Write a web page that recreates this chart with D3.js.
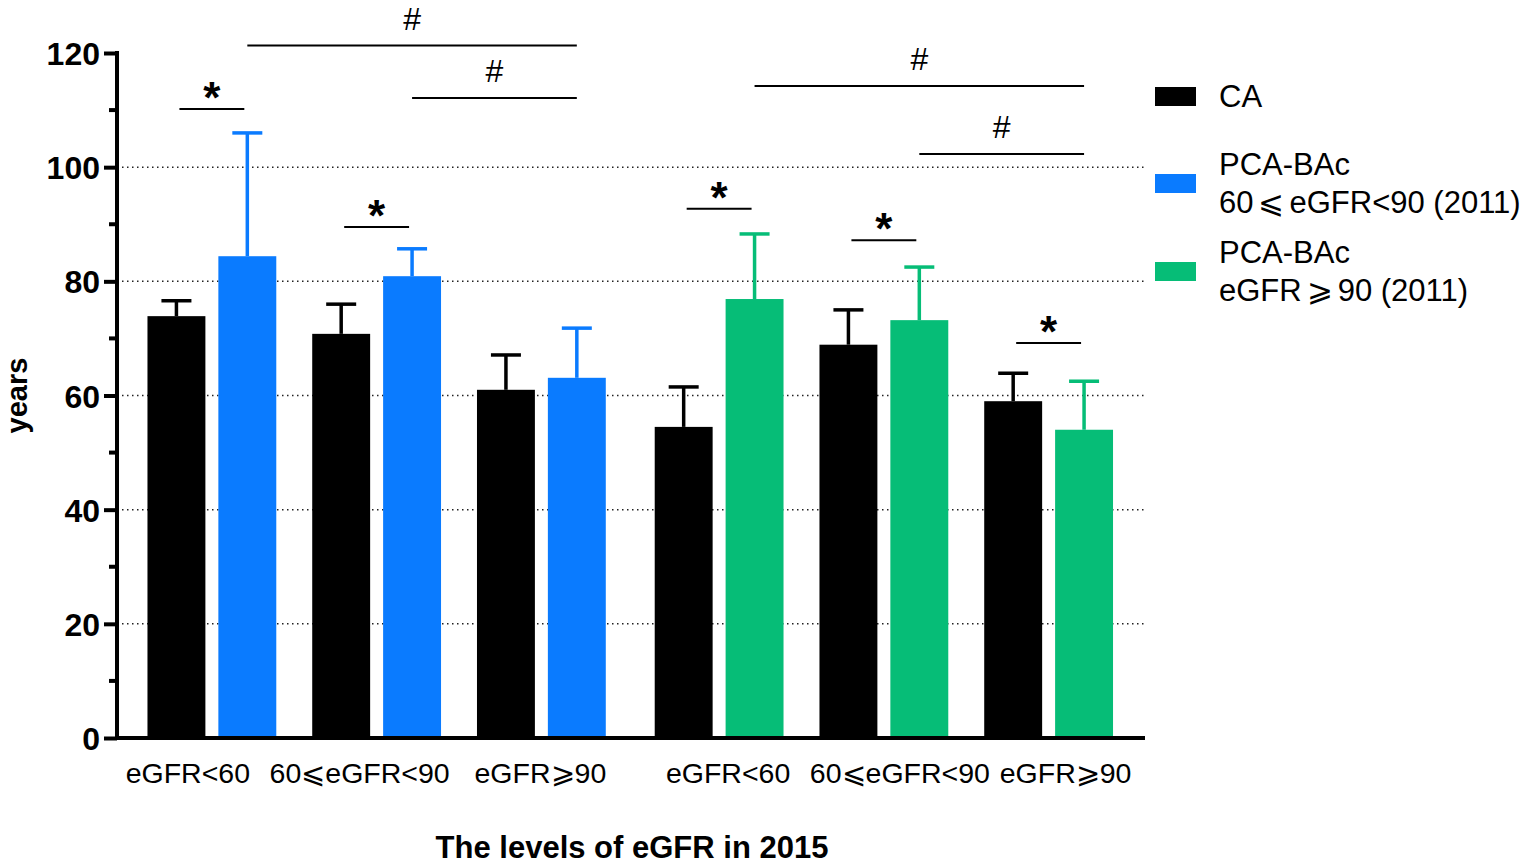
<!DOCTYPE html>
<html>
<head>
<meta charset="utf-8">
<script src="https://cdn.jsdelivr.net/npm/d3@7"></script>
<style>
    body { margin: 0; background: #fff; }
    svg { display: block; font-family: "Liberation Sans", Arial, sans-serif; }
</style>
</head>
<body>
<script>
// eGFR level in 2015, split by baseline group (2011)
const halves = ['h60', 'h90'];
const groups = ['g1', 'g2', 'g3', 'g4', 'g5', 'g6'];
const groupHalf = ['h60', 'h60', 'h60', 'h90', 'h90', 'h90'];
const groupLabels = ['eGFR<60', '60⩽eGFR<90', 'eGFR⩾90', 'eGFR<60', '60⩽eGFR<90', 'eGFR⩾90'];

// mean and SD (years)
const caMean = [73.9, 70.8, 61.0, 54.5, 68.9, 59.0];
const caSD = [2.7, 5.2, 6.1, 7.0, 6.1, 4.9];
const pcaMean = [84.4, 80.9, 63.1, 76.9, 73.2, 54.0];
const pcaSD = [21.6, 4.8, 8.7, 11.4, 9.3, 8.5];

const yTicks = [0, 20, 40, 60, 80, 100, 120];
const yMinorTicks = [10, 30, 50, 70, 90, 110];
const yGrid = [20, 40, 60, 80, 100];

// significance: * between CA and PCA-BAc within a group, # between PCA-BAc bars
const starMarks = [
    {group: 0, y: 110.2},
    {group: 1, y: 89.5},
    {group: 3, y: 92.7},
    {group: 4, y: 87.2},
    {group: 5, y: 69.2}
];
const hashMarks = [
    {from: 0, to: 2, y: 121.3},
    {from: 1, to: 2, y: 112.1},
    {from: 3, to: 5, y: 114.2},
    {from: 4, to: 5, y: 102.3}
];

const legendItems = [
    {label: ['CA'], color: '#000000'},
    {label: ['PCA-BAc', '60⩽eGFR<90 (2011)'], color: '#0a7bff'},
    {label: ['PCA-BAc', 'eGFR⩾90 (2011)'], color: '#06bd77'}
];

const width = 1536;
const height = 866;
const plotLeft = 117, plotRight = 1145, plotTop = 53, plotBottom = 738;
// the category labels in the original sit a little off the group centres
const xLabelNudge = [-24, -17, -1, 9, 16, 17];

const svg = d3.select('body').append('svg')
    .attr('width', width)
    .attr('height', height);

const y = d3.scaleLinear().domain([0, 120]).range([plotBottom, plotTop]);

const xHalf = d3.scaleBand().domain(halves).range([129.5, 1131]).paddingInner(0.0256);
const xGroup = d3.scaleBand().domain([0, 1, 2]).range([0, xHalf.bandwidth()]);
const xBar = d3.scaleBand().domain(['ca', 'pca']).range([0, xGroup.bandwidth()])
    .paddingInner(0.183).paddingOuter(0.2535);

function groupX(i) {
    return xHalf(groupHalf[i]) + xGroup(i % 3);
}
function barCenter(i, key) {
    return groupX(i) + xBar(key) + xBar.bandwidth() / 2;
}

// dotted grid
svg.append('g')
    .selectAll('line')
    .data(yGrid)
    .join('line')
    .attr('x1', plotLeft)
    .attr('x2', plotRight)
    .attr('y1', d => y(d))
    .attr('y2', d => y(d))
    .attr('stroke', '#222')
    .attr('stroke-width', 1.5)
    .attr('stroke-dasharray', '1.5 3.5');

// bars
const bars = [];
groups.forEach((g, i) => {
    const pcaColor = groupHalf[i] === 'h60' ? legendItems[1].color : legendItems[2].color;
    bars.push({i, key: 'ca', mean: caMean[i], sd: caSD[i], color: '#000000'});
    bars.push({i, key: 'pca', mean: pcaMean[i], sd: pcaSD[i], color: pcaColor});
});

svg.append('g')
    .selectAll('rect')
    .data(bars)
    .join('rect')
    .attr('x', d => groupX(d.i) + xBar(d.key))
    .attr('width', xBar.bandwidth())
    .attr('y', d => y(d.mean))
    .attr('height', d => y(0) - y(d.mean))
    .attr('fill', d => d.color);

// error bars (upper only)
const err = svg.append('g')
    .selectAll('g')
    .data(bars)
    .join('g')
    .attr('stroke', d => d.color)
    .attr('stroke-width', 3.5);

err.append('line')
    .attr('x1', d => barCenter(d.i, d.key))
    .attr('x2', d => barCenter(d.i, d.key))
    .attr('y1', d => y(d.mean))
    .attr('y2', d => y(d.mean + d.sd));

err.append('line')
    .attr('x1', d => barCenter(d.i, d.key) - 15)
    .attr('x2', d => barCenter(d.i, d.key) + 15)
    .attr('y1', d => y(d.mean + d.sd))
    .attr('y2', d => y(d.mean + d.sd));

// y axis
const yAxis = svg.append('g')
    .attr('transform', `translate(${plotLeft},0)`)
    .call(d3.axisLeft(y).tickValues(yTicks).tickSize(13).tickSizeOuter(0).tickPadding(4));
yAxis.select('.domain').attr('stroke-width', 4).attr('d', `M0,${y(120) - 2}V${plotBottom}`);
yAxis.selectAll('.tick line').attr('stroke-width', 4);
yAxis.selectAll('.tick text')
    .attr('font-size', 32)
    .attr('font-weight', 'bold')
    .attr('font-family', '"Liberation Sans", Arial, sans-serif')
    .attr('dy', '0.36em');

svg.append('g')
    .selectAll('line')
    .data(yMinorTicks)
    .join('line')
    .attr('x1', plotLeft - 8)
    .attr('x2', plotLeft)
    .attr('y1', d => y(d))
    .attr('y2', d => y(d))
    .attr('stroke', '#000')
    .attr('stroke-width', 4);

// x axis line
svg.append('line')
    .attr('x1', plotLeft - 2)
    .attr('x2', plotRight)
    .attr('y1', plotBottom)
    .attr('y2', plotBottom)
    .attr('stroke', '#000')
    .attr('stroke-width', 4);

// x tick labels
svg.append('g')
    .selectAll('text')
    .data(groups)
    .join('text')
    .attr('x', (d, i) => groupX(i) + xGroup.bandwidth() / 2 + xLabelNudge[i])
    .attr('y', 783)
    .attr('text-anchor', 'middle')
    .attr('font-size', 28.5)
    .text((d, i) => groupLabels[i]);

// axis titles
svg.append('text')
    .attr('x', 632)
    .attr('y', 858)
    .attr('text-anchor', 'middle')
    .attr('font-size', 31)
    .attr('font-weight', 'bold')
    .text('The levels of eGFR in 2015');

svg.append('text')
    .attr('transform', `translate(27,${y(60)}) rotate(-90)`)
    .attr('text-anchor', 'middle')
    .attr('font-size', 29)
    .attr('font-weight', 'bold')
    .text('years');

// * annotations
const stars = svg.append('g')
    .selectAll('g')
    .data(starMarks)
    .join('g');

stars.append('line')
    .attr('x1', d => barCenter(d.group, 'ca') + 3)
    .attr('x2', d => barCenter(d.group, 'pca') - 3)
    .attr('y1', d => y(d.y))
    .attr('y2', d => y(d.y))
    .attr('stroke', '#000')
    .attr('stroke-width', 2);

stars.append('text')
    .attr('x', d => (barCenter(d.group, 'ca') + barCenter(d.group, 'pca')) / 2)
    .attr('y', d => y(d.y) + 4)
    .attr('text-anchor', 'middle')
    .attr('font-size', 44)
    .attr('font-weight', 'bold')
    .text('*');

// # annotations
const hashes = svg.append('g')
    .selectAll('g')
    .data(hashMarks)
    .join('g');

hashes.append('line')
    .attr('x1', d => barCenter(d.from, 'pca'))
    .attr('x2', d => barCenter(d.to, 'pca'))
    .attr('y1', d => y(d.y))
    .attr('y2', d => y(d.y))
    .attr('stroke', '#000')
    .attr('stroke-width', 2);

hashes.append('text')
    .attr('x', d => (barCenter(d.from, 'pca') + barCenter(d.to, 'pca')) / 2)
    .attr('y', d => y(d.y) - 16)
    .attr('text-anchor', 'middle')
    .attr('font-size', 32)
    .text('#');

// legend
const legendRowY = [96, 183, 271];
const legend = svg.append('g')
    .selectAll('g')
    .data(legendItems)
    .join('g')
    .attr('transform', (d, i) => `translate(1155,${legendRowY[i]})`);

legend.append('rect')
    .attr('x', 0)
    .attr('y', -9)
    .attr('width', 41)
    .attr('height', 19)
    .attr('fill', d => d.color);

// legend lines: the relation sign is set wide, as in the original
const legendLines = legend.append('text')
    .attr('font-size', 31)
    .selectAll('text')
    .data(d => d.label.map((t, k) => ({t, k, n: d.label.length})))
    .join('tspan')
    .attr('x', 64)
    .attr('y', d => (d.k - (d.n - 1) / 2) * 38 + 11);

legendLines.each(function (d) {
    const parts = d.t.split(/([⩽⩾])/);
    const line = d3.select(this);
    parts.forEach((p, j) => {
        const isSign = p === '⩽' || p === '⩾';
        line.append('tspan')
            .attr('dx', isSign ? 5 : (j > 0 && parts[j - 1].match(/[⩽⩾]/) ? 5 : 0))
            .text(p);
    });
});
</script>
</body>
</html>
